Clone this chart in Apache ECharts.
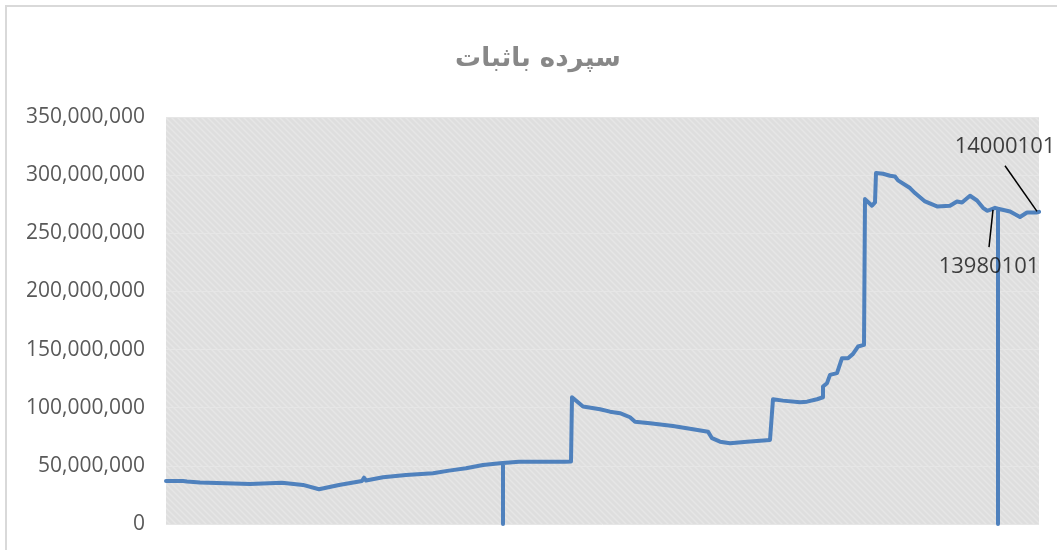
<!DOCTYPE html>
<html>
<head>
<meta charset="utf-8">
<script src="https://cdn.jsdelivr.net/npm/echarts@6/dist/echarts.min.js"></script>
<style>
  html, body { margin: 0; padding: 0; background: #fff; }
  #chart { width: 1057px; height: 550px; }
</style>
</head>
<body>
<div id="chart"></div>
<script>
// observation index (hidden x axis) and balance in millions
const obsIndex = [0, 17, 19, 21, 34, 84, 116, 137, 153, 173, 196, 198, 200, 217, 240, 267, 283, 300, 317, 334,
  337, 337, 337, 353, 399, 405, 406, 417, 434, 444, 454, 464, 469, 484, 507, 527, 542, 546, 554, 564,
  581, 604, 606, 607, 617, 634, 641, 651, 657, 657, 661, 664, 671, 676, 682, 687, 692, 698, 699, 706,
  709, 710, 717, 724, 729, 732, 744, 749, 759, 771, 784, 791, 796, 804, 811, 817, 821, 824, 829, 832,
  832, 832, 844, 854, 861, 871, 873]
const balance = [37.0, 37.0, 38.7, 36.6, 35.7, 34.4, 35.5, 33.6, 29.9, 33.6, 37.0, 39.8, 37.4, 40.2, 42.2, 43.6, 45.9, 47.9, 50.8, 52.2,
  52.5, 0, 52.5, 53.6, 53.6, 53.8, 109.0, 101.0, 98.7, 96.6, 95.3, 91.8, 88.0, 86.7, 84.3, 81.5, 79.4, 73.8, 70.8, 69.5,
  70.8, 72.3, 72.9, 107.3, 106.1, 104.7, 105.2, 107.3, 109.0, 118.2, 121.1, 128.2, 129.7, 142.6, 142.6, 146.3, 152.6, 154.0, 279.4, 273.7,
  276.5, 301.8, 301.2, 299.5, 298.9, 295.5, 288.9, 284.6, 277.4, 273.1, 273.7, 277.4, 276.5, 282.3, 278.2, 271.9, 269.4, 270.2, 271.9, 271.1,
  0, 271.1, 268.8, 264.0, 267.9, 267.9, 268.5]

// annotated dates: where each label sits, and its leader line
const noteNames = ['13980101', '14000101']
const noteObs = [823, 839]
const noteValues = [221.0, 324.0]
const leaderFrom = [[827, 270.2], [871, 268.8]]
const leaderTo = [[823, 238.1], [839, 308.1]]

const yTicks = [0, 50, 100, 150, 200, 250, 300, 350]

const chartTitle = 'سپرده باثبات'

function makeHatch() {
  const c = document.createElement('canvas')
  c.width = 6
  c.height = 6
  const ctx = c.getContext('2d')
  ctx.fillStyle = '#dedede'
  ctx.fillRect(0, 0, 6, 6)
  ctx.strokeStyle = '#e6e6e6'
  ctx.lineWidth = 1.5
  ctx.beginPath()
  ctx.moveTo(-1, -1); ctx.lineTo(7, 7)
  ctx.moveTo(-4, 2); ctx.lineTo(4, 10)
  ctx.moveTo(2, -4); ctx.lineTo(10, 4)
  ctx.stroke()
  return c
}

const chart = echarts.init(document.getElementById('chart'))

chart.setOption({
  animation: false,
  title: {
    text: chartTitle,
    left: 450,
    top: 41,
    textStyle: {
      fontFamily: 'DejaVu Sans',
      fontSize: 26,
      fontWeight: 'bold',
      color: '#888888'
    }
  },
  graphic: [{
    type: 'rect',
    shape: { x: 6, y: 6, width: 1070, height: 570 },
    style: { fill: 'none', stroke: '#d9d9d9', lineWidth: 2 },
    silent: true
  }],
  grid: {
    left: 166,
    right: 18,
    top: 117,
    bottom: 26,
    show: true,
    borderWidth: 0,
    backgroundColor: { image: makeHatch(), repeat: 'repeat' }
  },
  xAxis: {
    type: 'value',
    min: 0,
    max: 873,
    axisLine: { show: false },
    axisTick: { show: false },
    axisLabel: { show: false },
    splitLine: { show: false }
  },
  yAxis: {
    type: 'value',
    min: yTicks[0] * 1e6,
    max: yTicks[yTicks.length - 1] * 1e6,
    interval: 50e6,
    axisLine: { show: false },
    axisTick: { show: false },
    splitLine: { lineStyle: { color: '#e6e6e6', width: 1 } },
    axisLabel: {
      margin: 21,
      fontFamily: 'Open Sans',
      fontSize: 21,
      color: '#595959',
      formatter: v => v.toLocaleString('en-US')
    }
  },
  series: [
    {
      type: 'line',
      data: obsIndex.map((x, i) => [x, balance[i] * 1e6]),
      showSymbol: false,
      symbol: 'none',
      lineStyle: { color: '#4f81bd', width: 4, join: 'round', cap: 'round' },
      z: 2
    },
    {
      type: 'scatter',
      clip: false,
      data: noteObs.map((x, i) => ({ name: noteNames[i], value: [x, noteValues[i] * 1e6] })),
      symbolSize: 1,
      itemStyle: { color: 'rgba(0,0,0,0)' },
      label: {
        show: true,
        position: 'inside',
        formatter: p => p.name,
        fontFamily: 'Open Sans',
        fontSize: 22,
        color: '#111111'
      },
      markLine: {
        silent: true,
        symbol: 'none',
        label: { show: false },
        lineStyle: { color: '#000000', width: 1.5, type: 'solid' },
        data: leaderFrom.map((p, i) => [
          { coord: [p[0], p[1] * 1e6] },
          { coord: [leaderTo[i][0], leaderTo[i][1] * 1e6] }
        ])
      },
      z: 3
    }
  ]
})
</script>
</body>
</html>
